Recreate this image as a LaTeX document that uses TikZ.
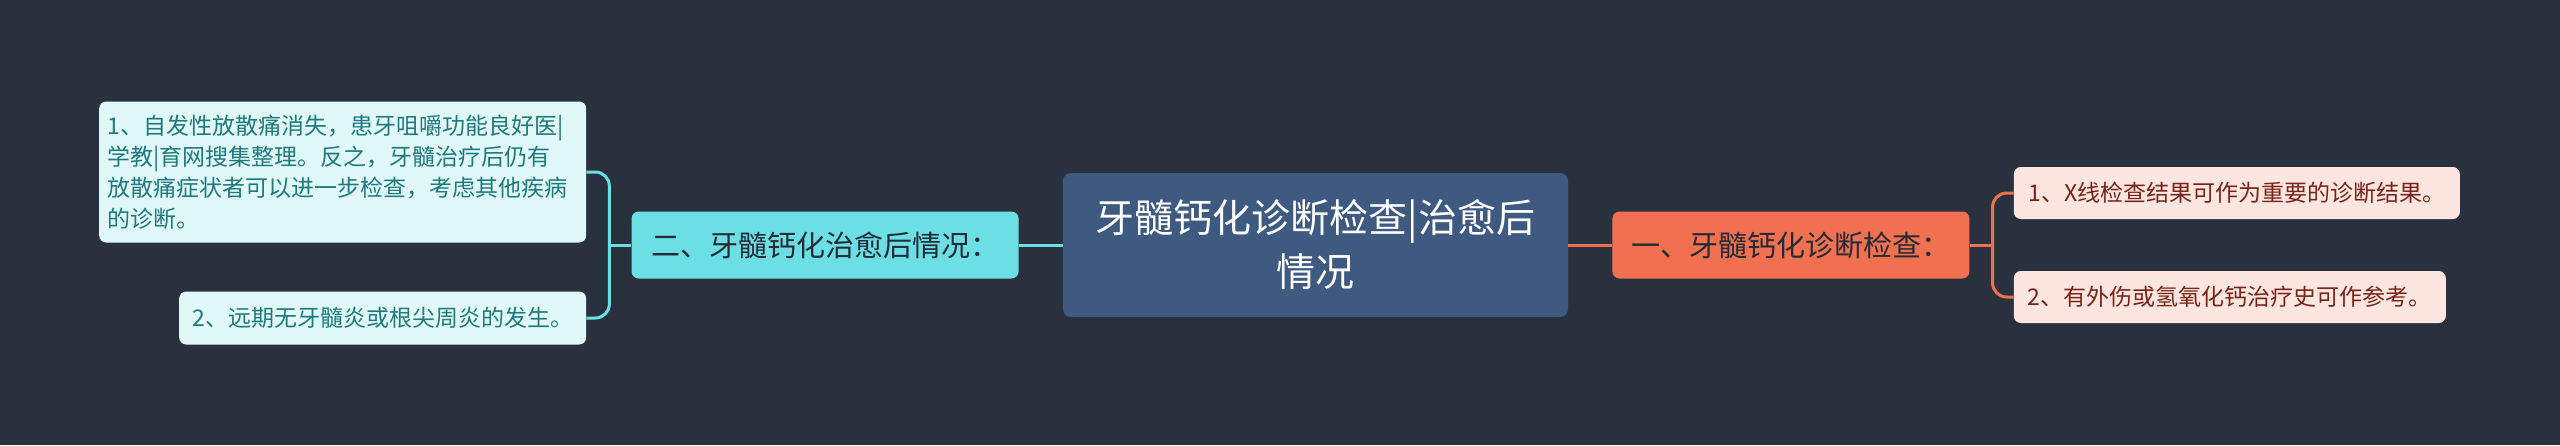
\documentclass[tikz,border=0pt]{standalone}
\usepackage{fontspec}
\newfontfamily\cjk{Noto Sans CJK SC}
\usetikzlibrary{positioning}

\definecolor{bgcol}{HTML}{29313F}
\definecolor{rootfill}{HTML}{3E5A80}
\definecolor{cyanfill}{HTML}{6CDFE4}
\definecolor{cyanleaf}{HTML}{E0F8F8}
\definecolor{cyantext}{HTML}{1F7A7E}
\definecolor{orangefill}{HTML}{F0704F}
\definecolor{orangeleaf}{HTML}{FDE6E0}
\definecolor{orangetext}{HTML}{7A2418}
\definecolor{darktext}{HTML}{222B36}

\begin{document}
\begin{tikzpicture}[
x=1pt, y=1pt,
rootbox/.style={rectangle, rounded corners=8pt, minimum width=505pt, minimum height=144pt, align=center, fill=rootfill, text=white, font=\cjk\fontsize{39}{54}\selectfont},
cyanbox/.style={rectangle, rounded corners=7pt, minimum width=387pt, minimum height=67pt, fill=cyanfill, text=darktext, font=\cjk\fontsize{29}{36}\selectfont},
orangebox/.style={rectangle, rounded corners=7pt, minimum width=357pt, minimum height=67pt, fill=orangefill, text=darktext, font=\cjk\fontsize{29}{36}\selectfont},
cyanleafbox/.style={rectangle, rounded corners=7pt, minimum height=53pt, fill=cyanleaf, text=cyantext, font=\cjk\fontsize{23}{31}\selectfont},
orangeleafbox/.style={rectangle, rounded corners=7pt, minimum height=52pt, fill=orangeleaf, text=orangetext, font=\cjk\fontsize{23}{31}\selectfont},
cyanline/.style={draw=cyanfill, line width=3pt},
orangeline/.style={draw=orangefill, line width=3pt},
]
  \fill[bgcol] (-1315.5,-200) rectangle (1244.5,245);
  \useasboundingbox (-1315.5,-200) rectangle (1244.5,245);

  \node (root) [rootbox] at (0,0) {牙髓钙化诊断检查|治愈后\\情况};
  \node (healed) [cyanbox, left=44pt of root] {二、牙髓钙化治愈后情况：};
  \node (diagnosis) [orangebox, right=44pt of root] {一、牙髓钙化诊断检查：};

  \coordinate (lsplit) at ([xshift=-22pt]healed.west);
  \coordinate (rsplit) at ([xshift=23pt]diagnosis.east);

  \node (healedA) [cyanleafbox, minimum height=141pt, inner xsep=8.5pt, text width=470pt, align=left, left=23pt of lsplit, yshift=73pt]
    {1、自发性放散痛消失，患牙咀嚼功能良好医|\\学教|育网搜集整理。反之，牙髓治疗后仍有\\放散痛症状者可以进一步检查，考虑其他疾病\\的诊断。};
  \node (healedB) [cyanleafbox, minimum width=407pt, left=23pt of lsplit, yshift=-73pt] {2、远期无牙髓炎或根尖周炎的发生。};
  \node (diagA) [orangeleafbox, minimum width=446pt, right=21pt of rsplit, yshift=52pt] {1、X线检查结果可作为重要的诊断结果。};
  \node (diagB) [orangeleafbox, minimum width=432pt, right=21pt of rsplit, yshift=-52pt] {2、有外伤或氢氧化钙治疗史可作参考。};

  \draw[cyanline] (root.west) -- (healed.east);
  \draw[cyanline] (healed.west) -- (lsplit);
  \draw[cyanline, rounded corners=14pt] (lsplit) |- (healedA.east);
  \draw[cyanline, rounded corners=14pt] (lsplit) |- (healedB.east);

  \draw[orangeline] (root.east) -- (diagnosis.west);
  \draw[orangeline] (diagnosis.east) -- (rsplit);
  \draw[orangeline, rounded corners=14pt] (rsplit) |- (diagA.west);
  \draw[orangeline, rounded corners=14pt] (rsplit) |- (diagB.west);
\end{tikzpicture}
\end{document}
